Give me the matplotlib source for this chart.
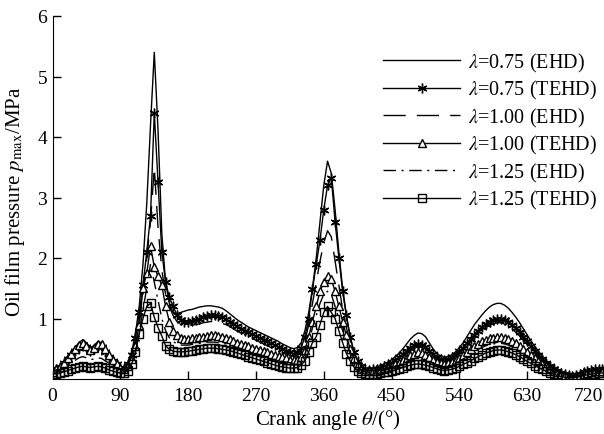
import numpy as np
import matplotlib
matplotlib.use('Agg')
import matplotlib.pyplot as plt
import matplotlib.transforms as mtransforms

plt.rcParams['font.family'] = ['Liberation Serif', 'DejaVu Serif']
plt.rcParams['mathtext.fontset'] = 'stix'

# crank angle, every 5 degrees
theta = np.arange(0, 735, 5)

# lambda = 0.75, EHD
p075_ehd = [
    0.15, 0.18, 0.22, 0.30, 0.38, 0.45, 0.53, 0.60, 0.65, 0.60,
    0.52, 0.55, 0.62, 0.60, 0.50, 0.40, 0.32, 0.25, 0.20, 0.20,
    0.28, 0.45, 0.75, 1.20, 1.90, 2.90, 4.20, 5.40, 4.10, 2.40,
    1.60, 1.25, 1.10, 1.08, 1.10, 1.12, 1.14, 1.15, 1.17, 1.19,
    1.20, 1.21, 1.21, 1.20, 1.19, 1.17, 1.13, 1.08, 1.03, 0.98,
    0.94, 0.90, 0.86, 0.83, 0.80, 0.77, 0.74, 0.71, 0.68, 0.65,
    0.62, 0.58, 0.55, 0.52, 0.50, 0.52, 0.60, 0.80, 1.10, 1.50,
    2.00, 2.60, 3.20, 3.60, 3.40, 2.80, 2.10, 1.50, 1.05, 0.70,
    0.45, 0.30, 0.22, 0.18, 0.17, 0.18, 0.20, 0.22, 0.25, 0.28,
    0.32, 0.37, 0.43, 0.50, 0.58, 0.66, 0.72, 0.76, 0.75, 0.70,
    0.60, 0.50, 0.42, 0.38, 0.36, 0.37, 0.40, 0.45, 0.52, 0.60,
    0.70, 0.80, 0.90, 0.98, 1.06, 1.13, 1.19, 1.23, 1.25, 1.25,
    1.22, 1.17, 1.10, 1.02, 0.93, 0.83, 0.73, 0.63, 0.54, 0.46,
    0.38, 0.31, 0.25, 0.20, 0.16, 0.12, 0.09, 0.07, 0.06, 0.07,
    0.10, 0.13, 0.15, 0.16, 0.17, 0.18, 0.18]

# lambda = 0.75, TEHD
p075_tehd = [
    0.13, 0.16, 0.20, 0.26, 0.33, 0.40, 0.46, 0.52, 0.56, 0.53,
    0.47, 0.49, 0.54, 0.53, 0.45, 0.37, 0.30, 0.24, 0.19, 0.18,
    0.25, 0.40, 0.68, 1.10, 1.55, 2.10, 2.70, 4.40, 3.25, 2.10,
    1.60, 1.35, 1.20, 1.06, 0.98, 0.95, 0.95, 0.96, 0.98, 1.00,
    1.02, 1.04, 1.05, 1.05, 1.04, 1.02, 0.99, 0.95, 0.91, 0.87,
    0.83, 0.80, 0.77, 0.74, 0.71, 0.68, 0.65, 0.62, 0.59, 0.56,
    0.53, 0.50, 0.47, 0.44, 0.42, 0.44, 0.52, 0.70, 1.00, 1.49,
    1.90, 2.30, 2.80, 3.20, 3.33, 2.60, 2.00, 1.45, 1.05, 0.70,
    0.45, 0.30, 0.21, 0.17, 0.15, 0.16, 0.17, 0.19, 0.21, 0.24,
    0.27, 0.31, 0.36, 0.41, 0.47, 0.52, 0.56, 0.58, 0.57, 0.53,
    0.47, 0.41, 0.36, 0.33, 0.32, 0.33, 0.36, 0.40, 0.46, 0.52,
    0.59, 0.66, 0.73, 0.80, 0.86, 0.91, 0.95, 0.98, 1.00, 1.00,
    0.98, 0.95, 0.90, 0.84, 0.77, 0.70, 0.62, 0.54, 0.47, 0.40,
    0.33, 0.27, 0.22, 0.17, 0.13, 0.10, 0.08, 0.06, 0.05, 0.06,
    0.08, 0.11, 0.13, 0.15, 0.16, 0.17, 0.17]

# lambda = 1.00, EHD
p100_ehd = [
    0.12, 0.15, 0.18, 0.23, 0.29, 0.35, 0.41, 0.46, 0.50, 0.47,
    0.42, 0.44, 0.48, 0.47, 0.41, 0.34, 0.28, 0.22, 0.18, 0.17,
    0.23, 0.36, 0.60, 0.95, 1.40, 2.00, 2.60, 3.50, 2.50, 1.80,
    1.40, 1.20, 1.05, 0.95, 0.90, 0.88, 0.88, 0.89, 0.90, 0.91,
    0.93, 0.94, 0.95, 0.95, 0.94, 0.92, 0.90, 0.87, 0.83, 0.79,
    0.76, 0.73, 0.70, 0.67, 0.64, 0.61, 0.58, 0.55, 0.52, 0.49,
    0.46, 0.43, 0.41, 0.39, 0.37, 0.39, 0.46, 0.62, 0.90, 1.25,
    1.60, 1.95, 2.25, 2.45, 2.35, 1.95, 1.55, 1.15, 0.85, 0.60,
    0.40, 0.27, 0.19, 0.15, 0.14, 0.15, 0.16, 0.17, 0.19, 0.21,
    0.24, 0.28, 0.32, 0.37, 0.42, 0.47, 0.51, 0.53, 0.52, 0.49,
    0.43, 0.38, 0.33, 0.30, 0.29, 0.30, 0.33, 0.37, 0.42, 0.48,
    0.54, 0.61, 0.68, 0.74, 0.80, 0.85, 0.89, 0.91, 0.93, 0.93,
    0.91, 0.88, 0.83, 0.77, 0.71, 0.64, 0.57, 0.50, 0.43, 0.37,
    0.31, 0.25, 0.20, 0.16, 0.12, 0.09, 0.07, 0.06, 0.05, 0.06,
    0.07, 0.10, 0.12, 0.14, 0.15, 0.16, 0.16]

# lambda = 1.00, TEHD
p100_tehd = [
    0.12, 0.16, 0.20, 0.27, 0.35, 0.42, 0.50, 0.56, 0.60, 0.55,
    0.48, 0.52, 0.58, 0.58, 0.50, 0.40, 0.32, 0.24, 0.18, 0.16,
    0.22, 0.33, 0.55, 0.90, 1.50, 1.75, 2.20, 1.85, 1.70, 1.55,
    1.20, 0.95, 0.80, 0.72, 0.68, 0.66, 0.66, 0.67, 0.68, 0.69,
    0.70, 0.71, 0.72, 0.72, 0.71, 0.70, 0.68, 0.66, 0.63, 0.60,
    0.58, 0.56, 0.54, 0.52, 0.50, 0.48, 0.46, 0.44, 0.42, 0.40,
    0.38, 0.36, 0.34, 0.32, 0.31, 0.32, 0.37, 0.48, 0.70, 0.95,
    1.20, 1.45, 1.60, 1.70, 1.65, 1.45, 1.20, 0.95, 0.72, 0.50,
    0.34, 0.23, 0.17, 0.14, 0.13, 0.13, 0.14, 0.15, 0.17, 0.19,
    0.21, 0.24, 0.27, 0.31, 0.35, 0.39, 0.42, 0.44, 0.43, 0.40,
    0.36, 0.32, 0.28, 0.26, 0.25, 0.26, 0.28, 0.31, 0.35, 0.39,
    0.44, 0.49, 0.54, 0.58, 0.62, 0.65, 0.67, 0.68, 0.69, 0.69,
    0.68, 0.66, 0.63, 0.59, 0.54, 0.49, 0.44, 0.39, 0.34, 0.29,
    0.25, 0.21, 0.17, 0.14, 0.11, 0.08, 0.06, 0.05, 0.04, 0.05,
    0.06, 0.08, 0.10, 0.12, 0.13, 0.14, 0.14]

# lambda = 1.25, EHD
p125_ehd = [
    0.10, 0.12, 0.15, 0.19, 0.23, 0.27, 0.31, 0.35, 0.37, 0.35,
    0.32, 0.33, 0.35, 0.34, 0.30, 0.26, 0.21, 0.17, 0.14, 0.13,
    0.18, 0.28, 0.45, 0.75, 1.15, 1.50, 1.90, 1.60, 1.30, 1.00,
    0.80, 0.68, 0.62, 0.58, 0.56, 0.56, 0.56, 0.57, 0.58, 0.59,
    0.60, 0.61, 0.61, 0.61, 0.60, 0.59, 0.58, 0.56, 0.54, 0.52,
    0.50, 0.48, 0.46, 0.44, 0.42, 0.40, 0.38, 0.36, 0.34, 0.32,
    0.30, 0.29, 0.28, 0.27, 0.26, 0.27, 0.31, 0.41, 0.60, 0.85,
    1.05, 1.25, 1.40, 1.45, 1.40, 1.20, 1.00, 0.80, 0.60, 0.42,
    0.28, 0.19, 0.14, 0.12, 0.11, 0.11, 0.12, 0.13, 0.14, 0.16,
    0.18, 0.20, 0.23, 0.26, 0.29, 0.32, 0.34, 0.35, 0.34, 0.32,
    0.29, 0.26, 0.23, 0.21, 0.20, 0.21, 0.23, 0.26, 0.29, 0.33,
    0.37, 0.41, 0.45, 0.49, 0.52, 0.55, 0.57, 0.58, 0.59, 0.59,
    0.58, 0.56, 0.53, 0.50, 0.46, 0.42, 0.38, 0.33, 0.29, 0.25,
    0.21, 0.18, 0.15, 0.12, 0.10, 0.07, 0.05, 0.04, 0.04, 0.05,
    0.06, 0.08, 0.09, 0.11, 0.12, 0.13, 0.13]

# lambda = 1.25, TEHD
p125_tehd = [
    0.08, 0.09, 0.10, 0.12, 0.14, 0.16, 0.18, 0.20, 0.21, 0.20,
    0.19, 0.20, 0.21, 0.20, 0.18, 0.15, 0.13, 0.11, 0.10, 0.10,
    0.14, 0.25, 0.45, 0.75, 1.00, 1.20, 1.25, 1.02, 0.85, 0.71,
    0.55, 0.49, 0.46, 0.45, 0.45, 0.45, 0.46, 0.47, 0.48, 0.49,
    0.50, 0.51, 0.51, 0.51, 0.50, 0.49, 0.48, 0.47, 0.45, 0.43,
    0.41, 0.39, 0.37, 0.35, 0.33, 0.31, 0.29, 0.27, 0.25, 0.23,
    0.21, 0.20, 0.19, 0.18, 0.18, 0.19, 0.23, 0.30, 0.45, 0.60,
    0.70, 0.90, 1.10, 1.20, 1.10, 1.00, 0.80, 0.60, 0.42, 0.30,
    0.20, 0.14, 0.10, 0.08, 0.08, 0.08, 0.09, 0.10, 0.11, 0.12,
    0.13, 0.15, 0.17, 0.19, 0.21, 0.23, 0.24, 0.25, 0.24, 0.23,
    0.21, 0.19, 0.17, 0.15, 0.14, 0.15, 0.16, 0.18, 0.21, 0.24,
    0.27, 0.30, 0.34, 0.37, 0.40, 0.43, 0.45, 0.47, 0.48, 0.48,
    0.47, 0.45, 0.43, 0.40, 0.37, 0.33, 0.29, 0.26, 0.22, 0.19,
    0.16, 0.13, 0.10, 0.08, 0.06, 0.04, 0.03, 0.02, 0.02, 0.03,
    0.04, 0.06, 0.07, 0.08, 0.09, 0.10, 0.10]

labels = [r'$\lambda$=0.75 (EHD)', r'$\lambda$=0.75 (TEHD)',
          r'$\lambda$=1.00 (EHD)', r'$\lambda$=1.00 (TEHD)',
          r'$\lambda$=1.25 (EHD)', r'$\lambda$=1.25 (TEHD)']

fig = plt.figure(figsize=(6.04, 4.35), dpi=100)
ax = fig.add_axes([52.6/604, 55/435, 551.4/604, 363/435])

ax.plot(theta, p075_ehd, color='k', lw=1.0, label=labels[0])
ax.plot(theta, p075_tehd, color='k', lw=1.0, marker=(6, 2, 0), ms=7,
        mew=1.0, label=labels[1])
ax.plot(theta, p100_ehd, color='k', lw=1.0, dashes=(16, 8), label=labels[2])
ax.plot(theta, p100_tehd, color='k', lw=1.0, marker='^', ms=6, mfc='white',
        mew=1.0, label=labels[3])
ax.plot(theta, p125_ehd, color='k', lw=1.0, dashes=(9, 4, 1.5, 4),
        label=labels[4])
ax.plot(theta, p125_tehd, color='k', lw=1.0, marker='s', ms=6, mfc='none',
        mew=1.0, label=labels[5])

ax.set_xlim(0, 732)
ax.set_ylim(0, 6)
ax.set_xticks(np.arange(0, 721, 90))
ax.set_yticks([1, 2, 3, 4, 5, 6])
ax.tick_params(direction='in', length=6, width=1, labelsize=14, pad=4)
ax.tick_params(axis='x', pad=6)
ax.spines['top'].set_visible(False)
ax.spines['right'].set_visible(False)

# nudge the last x label so it stays inside the picture
last = ax.get_xticklabels()[-1]
last.set_transform(last.get_transform() +
                   mtransforms.ScaledTranslation(-7/100, 0, fig.dpi_scale_trans))

ax.set_xlabel(r'Crank angle $\theta$/(°)', fontsize=15, labelpad=2)
ax.set_ylabel(r'Oil film pressure $p_{\mathrm{max}}$/MPa', fontsize=15)
ax.yaxis.set_label_coords(-0.047, 0.49)

leg = ax.legend(loc='upper right', bbox_to_anchor=(597/604, 1 - 52/435),
                bbox_transform=fig.transFigure, frameon=False, fontsize=14.5,
                handlelength=3.8, handletextpad=0.4, labelspacing=0.22,
                borderaxespad=0, borderpad=0)

fig.savefig('out.png', dpi=100)
